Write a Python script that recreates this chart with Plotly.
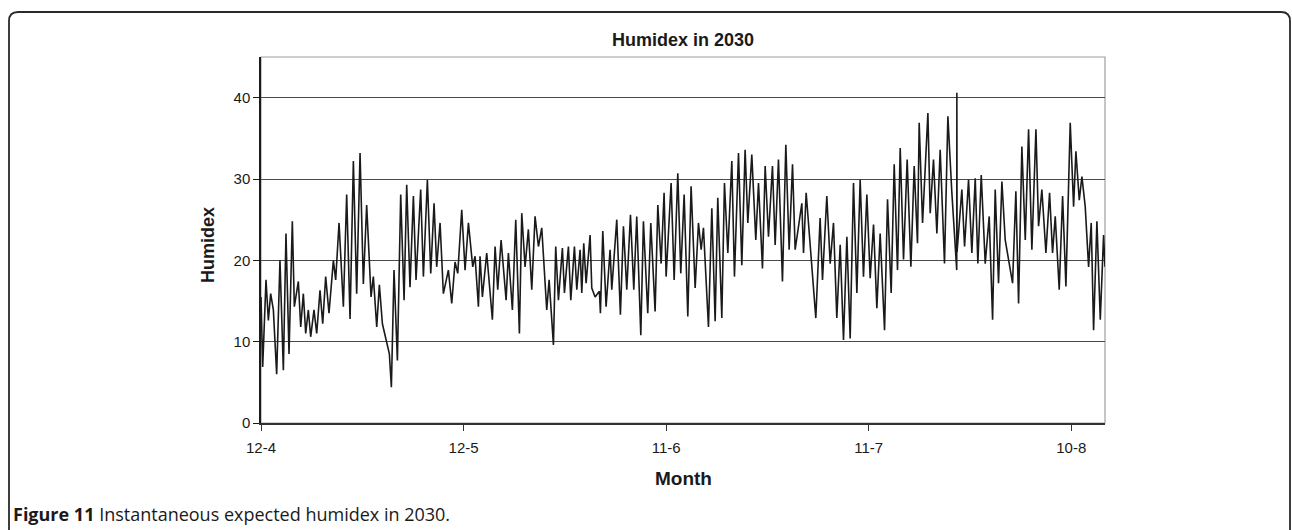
import plotly.graph_objects as go

# ---------------- data ----------------
# time in days after 12 April, humidex values at successive daily extremes
day = [0.00, 0.25, 0.74, 1.09, 1.43, 1.83, 2.32, 2.81, 3.31, 3.70, 4.15, 4.64, 4.94,
       5.53, 5.88, 6.27, 6.62, 7.01, 7.36, 7.85, 8.25, 8.74, 9.14, 9.58, 10.07, 10.72,
       11.06, 11.56, 12.20, 12.69, 13.19, 13.68, 14.17, 14.67, 15.16, 15.65, 16.30,
       16.64, 17.14, 17.53, 17.98, 19.01, 19.31, 19.70, 20.20, 20.69, 21.19, 21.58,
       22.07, 22.57, 22.96, 23.65, 24.05, 24.64, 25.14, 25.63, 26.02, 26.52, 27.01,
       27.75, 28.25, 28.74, 29.14, 29.73, 30.22, 30.72, 31.36,
       31.70, 32.20, 32.44, 32.79, 33.43, 34.27, 34.67, 35.06, 35.56, 36.30, 36.64,
       37.23, 37.73, 38.27, 38.62, 39.11, 39.60, 40.10, 40.59, 41.09, 41.58, 42.32,
       42.67, 43.31, 43.65, 44.05, 44.64, 44.94, 45.53, 45.88, 46.42, 46.77, 47.26,
       47.51, 47.80, 48.15, 48.74, 48.99, 49.48, 50.12, 50.27, 50.62, 51.11, 51.70,
       51.95, 52.69, 53.23, 53.68, 54.17, 54.72, 55.21, 55.65, 56.25, 56.64, 57.28,
       57.73, 58.37, 58.77, 59.26, 59.70, 60.00, 60.74, 61.19, 61.73, 62.17, 62.67,
       63.21, 63.70, 64.30,
       64.79, 65.19, 65.53, 66.27, 66.77, 67.26, 67.65, 68.25, 68.64, 69.14, 69.73,
       70.12, 70.72, 71.21, 71.70, 72.10, 72.69, 73.28, 73.68, 74.27, 74.67, 75.16,
       75.75, 76.15, 76.64, 77.23, 77.73, 78.22, 78.72, 79.11, 80.10, 80.35, 80.74,
       81.33, 82.17, 82.81, 83.16, 83.80, 84.30, 84.79, 85.28, 85.78, 86.27, 86.77,
       87.26, 87.75, 88.25, 88.74, 89.23, 89.73, 90.22, 90.72, 91.21, 91.70, 92.35,
       92.79, 93.33, 93.78, 94.27, 94.67, 95.16, 95.70, 96.25, 96.74, 97.23,
       97.48, 97.98, 98.77, 99.11, 99.60, 100.10, 100.59, 101.23, 101.73, 102.32,
       103.04, 103.06, 103.09, 103.80, 104.20, 104.79, 105.28, 105.78, 106.17, 106.67,
       107.26, 107.85, 108.35, 108.74, 109.23, 109.73, 110.22, 111.31, 111.80, 112.20,
       112.69, 113.19, 113.68, 114.17, 114.77, 115.16, 115.65, 116.25, 116.79, 117.23,
       117.63, 118.22, 118.72, 119.21, 119.85, 120.35, 120.69, 121.19, 121.58, 122.07,
       122.57, 122.96, 123.31, 123.80, 124.30, 124.79, 125.00]

humidex = [15.5, 6.9, 17.6, 12.6, 15.9, 13.9, 6.0, 20.0, 6.5, 23.3, 8.5, 24.8, 14.3,
           17.4, 11.8, 15.9, 11.0, 13.9, 10.6, 13.9, 11.0, 16.3, 12.2, 18.0, 13.5, 20.0,
           17.6, 24.6, 14.3, 28.1, 12.8, 32.2, 15.9, 33.2, 17.1, 26.8, 15.5,
           18.0, 11.8, 17.0, 12.2, 8.5, 4.4, 18.8, 7.7, 28.1, 15.1, 29.3,
           16.7, 27.9, 17.6, 28.7, 18.0, 29.9, 18.4, 27.0, 19.2, 24.6, 15.9,
           18.8, 14.7, 19.8, 18.4, 26.2, 18.8, 24.6, 19.2,
           20.5, 14.3, 20.5, 15.5, 20.9, 12.7, 21.7, 16.4, 22.5, 15.1, 20.9,
           13.9, 25.0, 11.0, 25.8, 19.2, 23.8, 16.4, 25.4, 21.7, 24.0, 13.9,
           17.6, 9.6, 21.7, 15.1, 21.5, 16.0, 21.7, 15.1, 21.7, 16.4, 21.3,
           16.0, 22.1, 17.2, 23.1, 16.6, 15.5, 16.2, 13.5, 23.6, 14.3, 21.3,
           16.4, 25.0, 13.3, 24.2, 16.4, 25.6, 16.4, 25.4, 10.8, 24.8, 13.5,
           24.6, 13.7, 26.8, 19.6, 28.3, 18.0, 29.5, 17.6, 30.7, 18.4, 28.1,
           13.1, 29.1, 16.6,
           24.6, 21.3, 24.0, 11.8, 26.4, 12.5, 27.7, 12.9, 29.5, 20.9, 32.2,
           18.0, 33.2, 19.4, 33.6, 24.6, 33.0, 22.5, 29.5, 19.0, 31.6, 22.9,
           31.6, 21.9, 32.4, 17.4, 34.2, 21.3, 31.8, 21.3, 27.0, 20.9, 28.3,
           21.7, 12.9, 25.2, 17.6, 27.9, 19.6, 24.6, 12.9, 21.9, 10.2, 22.9,
           10.4, 29.5, 16.0, 29.9, 18.0, 28.1, 17.8, 24.4, 14.1, 23.3, 11.4,
           27.5, 16.0, 31.8, 18.8, 33.8, 20.1, 32.4, 19.2, 31.6, 22.1,
           36.9, 24.6, 38.1, 25.8, 32.4, 23.3, 33.6, 19.6, 37.7, 28.3,
           18.8, 40.6, 21.0, 28.7, 21.7, 29.9, 20.9, 30.1, 19.6, 30.5,
           19.6, 25.4, 12.7, 28.7, 17.2, 29.7, 22.5, 17.2, 28.5, 14.7,
           34.0, 22.5, 36.1, 21.3, 36.1, 24.2, 28.7, 20.9, 28.3, 20.9,
           25.4, 16.4, 27.9, 16.8, 36.9, 26.6, 33.4, 27.4, 30.3, 26.6,
           19.2, 24.6, 11.4, 24.8, 12.7, 23.1, 19.2]

tick_days = [0, 30, 60, 90, 120]
tick_labels = ["12-4", "12-5", "11-6", "11-7", "10-8"]
y_ticks = [0, 10, 20, 30, 40]

# ---------------- layout geometry (pixels) ----------------
W, H = 1292, 530
L, R, T, B = 261, 1105, 57, 423   # plot area edges


def px2x(px):
    return (px - L) / (R - L)


def py2y(py):
    return (B - py) / (B - T)


AX_FONT = "Liberation Sans, Arial, sans-serif"

fig = go.Figure()
fig.add_trace(go.Scatter(
    x=day, y=humidex, mode="lines",
    line=dict(color="#1a1a1a", width=1.6),
    showlegend=False, hoverinfo="skip",
))

# rounded outer frame
r = 9
fx0, fx1, fy0, fy1 = 9, 1290, 12, 560
path = (f"M {px2x(fx0)} {py2y(fy1)} L {px2x(fx0)} {py2y(fy0 + r)} "
        f"Q {px2x(fx0)} {py2y(fy0)} {px2x(fx0 + r)} {py2y(fy0)} "
        f"L {px2x(fx1 - r)} {py2y(fy0)} "
        f"Q {px2x(fx1)} {py2y(fy0)} {px2x(fx1)} {py2y(fy0 + r)} "
        f"L {px2x(fx1)} {py2y(fy1)}")

fig.update_layout(
    width=W, height=H,
    margin=dict(l=L, r=W - R, t=T, b=H - B, pad=0),
    paper_bgcolor="white", plot_bgcolor="white",
    font=dict(family=AX_FONT, color="#1a1a1a", size=15),
    shapes=[
        dict(type="rect", xref="paper", yref="paper", x0=0, x1=1, y0=0, y1=1,
             line=dict(color="#a0a0a0", width=1.2), layer="below"),
        dict(type="path", xref="paper", yref="paper", path=path,
             line=dict(color="#2a2a2a", width=1.8)),
    ],
    annotations=[
        dict(text="<b>Humidex in 2030</b>", xref="paper", yref="paper",
             x=0.5, y=py2y(40), xanchor="center", yanchor="middle",
             showarrow=False, font=dict(family=AX_FONT, size=18, color="#1a1a1a")),
        dict(text="<b>Humidex</b>", xref="paper", yref="paper",
             x=px2x(208), y=py2y(245), xanchor="center", yanchor="middle",
             textangle=-90, showarrow=False,
             font=dict(family=AX_FONT, size=18, color="#1a1a1a")),
        dict(text="<b>Month</b>", xref="paper", yref="paper",
             x=0.5, y=py2y(478), xanchor="center", yanchor="middle",
             showarrow=False, font=dict(family=AX_FONT, size=19, color="#1a1a1a")),
        dict(text="<b>Figure 11</b> Instantaneous expected humidex in 2030.",
             xref="paper", yref="paper", x=px2x(11), y=py2y(514),
             xanchor="left", yanchor="middle", showarrow=False,
             font=dict(family="Open Sans, Noto Sans, sans-serif", size=18,
                       color="#1a1a1a")),
    ],
)

fig.update_xaxes(
    range=[0, 125], tickvals=tick_days, ticktext=tick_labels,
    showgrid=False, zeroline=False,
    showline=True, linecolor="#333333", linewidth=2,
    ticks="outside", ticklen=6, tickcolor="#333333", tickwidth=1,
    tickfont=dict(size=15), ticklabelstandoff=4,
)
fig.update_yaxes(
    range=[0, 45], tickvals=y_ticks,
    showgrid=True, gridcolor="#4a4a4a", gridwidth=1, zeroline=False,
    showline=True, linecolor="#1a1a1a", linewidth=1.5,
    ticks="outside", ticklen=6, tickcolor="#1a1a1a", tickwidth=1,
    tickfont=dict(size=15),
)

fig.write_html(
    "out.html",
    config={"displayModeBar": False},
    post_script="document.body.style.margin='0';document.body.style.overflow='hidden';",
)
